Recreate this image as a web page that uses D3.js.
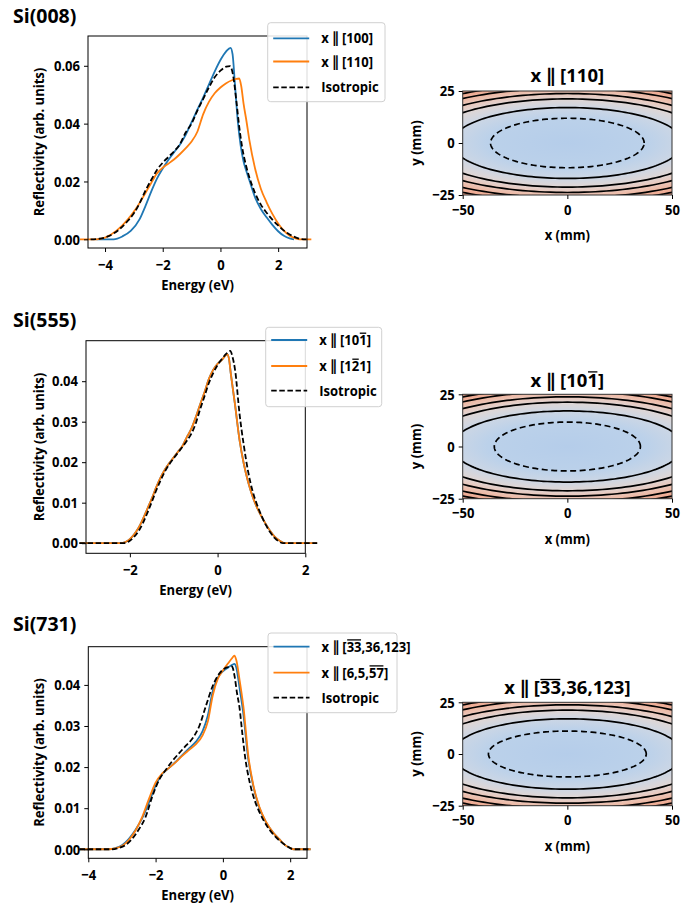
<!DOCTYPE html>
<html><head><meta charset="utf-8">
<script src="https://cdn.jsdelivr.net/npm/d3@7"></script>
<style>
body{margin:0;background:#fff;}
svg text{font-family:"Open Sans","DejaVu Sans",sans-serif;font-weight:700;}
</style></head><body>
<svg id="c" width="697" height="907"></svg>
<script>
// ---------------- DATA ----------------
// Si(008)
const si008_x100_E = [-4.3,-3.7,-3.4,-3.1,-2.8,-2.6,-2.4,-2.2,-2.0,-1.8,-1.6,-1.4,-1.2,-1.0,-0.8,-0.6,-0.4,-0.2,0,0.2,0.35,0.42,0.5,0.6,0.7,0.8,0.9,1.0,1.2,1.4,1.6,1.8,2.0,2.2,2.4,2.55];
const si008_x100_R = [0,0,0.001,0.003,0.007,0.0115,0.0165,0.021,0.0245,0.0275,0.0302,0.0328,0.0362,0.0405,0.0448,0.049,0.0535,0.058,0.062,0.065,0.0662,0.064,0.054,0.041,0.0325,0.027,0.0235,0.0205,0.0145,0.0105,0.0076,0.005,0.0028,0.0012,0.0003,0];
const si008_x110_E = [-4.87,-4.3,-4.0,-3.6,-3.2,-2.9,-2.6,-2.4,-2.2,-2.0,-1.8,-1.6,-1.4,-1.2,-1.0,-0.8,-0.6,-0.4,-0.2,0,0.2,0.4,0.55,0.65,0.72,0.8,0.9,1.0,1.2,1.4,1.6,1.8,2.0,2.2,2.4,2.6,2.75,3.15];
const si008_x110_R = [0,0,0.0006,0.003,0.007,0.011,0.016,0.0195,0.0228,0.0248,0.0262,0.0277,0.0295,0.0315,0.0338,0.0372,0.0432,0.0475,0.0505,0.0525,0.054,0.055,0.0555,0.0556,0.053,0.047,0.041,0.0345,0.0245,0.0175,0.0128,0.0088,0.0055,0.003,0.0012,0.0003,0,0];
const si008_iso_E = [-4.5,-4.2,-3.9,-3.5,-3.2,-3.0,-2.8,-2.6,-2.4,-2.2,-2.0,-1.8,-1.6,-1.4,-1.2,-1.0,-0.8,-0.6,-0.4,-0.2,0,0.2,0.33,0.4,0.45,0.55,0.65,0.75,0.9,1.0,1.2,1.4,1.6,1.8,2.0,2.2,2.4,2.6,2.8,2.98];
const si008_iso_R = [0,0.0002,0.001,0.0035,0.0065,0.009,0.0125,0.0168,0.0205,0.024,0.0265,0.0285,0.0305,0.033,0.037,0.040,0.0445,0.0485,0.0525,0.056,0.0583,0.0597,0.0599,0.0585,0.056,0.048,0.039,0.032,0.025,0.0215,0.016,0.012,0.0092,0.0068,0.0048,0.003,0.0017,0.0007,0.0001,0];
// Si(555)
const si555_x121_E = [-3.15,-2.2,-2.1,-2.0,-1.9,-1.8,-1.7,-1.6,-1.5,-1.4,-1.3,-1.2,-1.1,-1.0,-0.9,-0.8,-0.7,-0.6,-0.5,-0.4,-0.3,-0.2,-0.1,0,0.1,0.22,0.26,0.3,0.4,0.5,0.6,0.7,0.8,0.9,1.0,1.1,1.2,1.3,1.4,1.5,1.55,2.27];
const si555_x121_R = [0,0,0.0003,0.001,0.0022,0.0038,0.006,0.0085,0.011,0.0138,0.0162,0.0182,0.0198,0.0212,0.0226,0.024,0.0262,0.0282,0.031,0.0342,0.0372,0.0405,0.0428,0.0443,0.0453,0.0466,0.0455,0.042,0.034,0.0255,0.0195,0.015,0.0115,0.0088,0.0066,0.0047,0.003,0.0016,0.0007,0.0001,0,0];
const si555_x101_E = [-3.15,-2.2,-2.1,-2.0,-1.9,-1.8,-1.7,-1.6,-1.5,-1.4,-1.3,-1.2,-1.1,-1.0,-0.9,-0.8,-0.7,-0.6,-0.5,-0.4,-0.3,-0.2,-0.1,0,0.1,0.22,0.26,0.3,0.4,0.5,0.6,0.7,0.8,0.9,1.0,1.1,1.2,1.3,1.4,1.5,1.55,2.27];
const si555_x101_R = [0,0,0.0003,0.001,0.0022,0.0038,0.006,0.0085,0.011,0.0138,0.0162,0.0182,0.0198,0.0212,0.0226,0.024,0.0262,0.0282,0.031,0.0342,0.0372,0.0405,0.0428,0.0443,0.0453,0.0466,0.0455,0.042,0.034,0.0255,0.0195,0.015,0.0115,0.0088,0.0066,0.0047,0.003,0.0016,0.0007,0.0001,0,0];
const si555_iso_E = [-3.15,-2.15,-2.0,-1.9,-1.8,-1.7,-1.6,-1.5,-1.4,-1.3,-1.2,-1.1,-1.0,-0.9,-0.8,-0.7,-0.6,-0.5,-0.4,-0.3,-0.2,-0.1,0,0.1,0.2,0.29,0.34,0.4,0.5,0.6,0.7,0.8,0.9,1.0,1.1,1.2,1.3,1.4,1.5,2.27];
const si555_iso_R = [0,0,0.0006,0.0016,0.003,0.005,0.0075,0.0102,0.013,0.0155,0.0177,0.0195,0.021,0.0224,0.0238,0.0253,0.027,0.0295,0.033,0.0362,0.0395,0.042,0.044,0.0455,0.0468,0.0475,0.046,0.0427,0.032,0.024,0.0175,0.0128,0.0095,0.0068,0.0045,0.0027,0.0013,0.0004,0,0];
// Si(731)
const si731_xA_E = [-4.26,-3.4,-3.2,-3.0,-2.8,-2.6,-2.4,-2.2,-2.0,-1.8,-1.6,-1.4,-1.2,-1.0,-0.8,-0.6,-0.45,-0.3,-0.15,0,0.15,0.28,0.34,0.4,0.5,0.6,0.75,0.9,1.08,1.28,1.5,1.67,1.85,2.0,2.1,2.61];
const si731_xA_R = [0,0,0.0003,0.001,0.0025,0.0047,0.0075,0.0113,0.0155,0.0183,0.0198,0.0213,0.023,0.0246,0.0262,0.0288,0.0325,0.0385,0.0418,0.0433,0.0442,0.0449,0.0451,0.0442,0.039,0.0335,0.0222,0.0155,0.0102,0.0066,0.004,0.0025,0.001,0.0003,0,0];
const si731_xB_E = [-4.26,-3.4,-3.2,-3.0,-2.8,-2.6,-2.4,-2.2,-2.0,-1.8,-1.6,-1.4,-1.2,-1.0,-0.8,-0.6,-0.45,-0.3,-0.15,0,0.15,0.28,0.34,0.4,0.5,0.61,0.76,0.9,1.08,1.28,1.5,1.67,1.85,2.0,2.1,2.61];
const si731_xB_R = [0,0,0.0002,0.0008,0.0022,0.0045,0.0078,0.0122,0.0162,0.0185,0.0198,0.0212,0.0228,0.0242,0.0256,0.0278,0.031,0.0375,0.0415,0.0435,0.0452,0.0466,0.0471,0.046,0.041,0.0347,0.0225,0.0158,0.0104,0.0067,0.004,0.0025,0.001,0.0003,0,0];
const si731_iso_E = [-4.26,-3.3,-3.1,-2.9,-2.7,-2.5,-2.3,-2.1,-1.9,-1.7,-1.5,-1.3,-1.1,-0.9,-0.7,-0.5,-0.3,-0.1,0.1,0.27,0.35,0.42,0.49,0.58,0.66,0.8,0.95,1.1,1.3,1.5,1.7,1.9,2.05,2.15,2.61];
const si731_iso_R = [0,0,0.0003,0.001,0.0025,0.0048,0.0078,0.0128,0.0168,0.0193,0.0215,0.0234,0.0252,0.027,0.030,0.035,0.0398,0.0428,0.0442,0.0445,0.042,0.038,0.0347,0.028,0.0225,0.0162,0.0118,0.0088,0.0058,0.0036,0.002,0.0008,0.0001,0,0];

// tick values
const si008_xTicks = [-4,-2,0,2], si008_yTicks = [0,0.02,0.04,0.06];
const si555_xTicks = [-2,0,2],    si555_yTicks = [0,0.01,0.02,0.03,0.04];
const si731_xTicks = [-4,-2,0,2], si731_yTicks = [0,0.01,0.02,0.03,0.04];
const map_xTicks = [-50,0,50], map_yTicks = [-25,0,25];

// contour map: levels (y^2 at x=0, mm^2) of the field x^2/anisotropy + y^2
const mapAnisotropy = 10.5;
const mapSolidLevels = [290, 450, 566, 695, 802];
// dashed contour semi-axes [x, y] in mm
const mapDashed = [[36.7,11.9],[34.9,11.7],[37.7,11.1]];
// colour ramp against normalised elliptic radius
const cmapStops  = [0, 0.40, 0.57, 0.70, 0.78, 0.85, 0.92, 1.0];
const cmapColors = ["#b5cdea","#bbd1ea","#cbd6e5","#ddd6d6","#e7cbc2","#ecbfae","#eeaf98","#efa088"];

// labels
const legendLabels = [
  [[["x \u2225 [100]",0]], [["x \u2225 [110]",0]], [["Isotropic",0]]],
  [[["x \u2225 [10",0],["1",1],["]",0]], [["x \u2225 [1",0],["2",1],["1]",0]], [["Isotropic",0]]],
  [[["x \u2225 [",0],["33",1],[",36,123]",0]], [["x \u2225 [6,5,",0],["57",1],["]",0]], [["Isotropic",0]]]
];
const mapTitles = [
  [["x \u2225 [110]",0]],
  [["x \u2225 [10",0],["1",1],["]",0]],
  [["x \u2225 [",0],["33",1],[",36,123]",0]]
];
const panelTitles = ["Si(008)","Si(555)","Si(731)"];
const seriesColors = ["#1f77b4","#ff7f0e","#000000"];

// ---------------- DRAW ----------------
const svg = d3.select("#c");
const FS = 15, KX = 0.87;   // font size and horizontal squeeze for small text

function squeeze(sel, k){
  sel.each(function(){
    const t=d3.select(this);
    const x=+(t.attr("x")||0);
    const prev=t.attr("transform")||"";
    t.attr("transform",`${prev} translate(${x},0) scale(${k},1) translate(${-x},0)`);
  });
}

function richText(g, segs, x, y, size, anchor, k){
  const tr=`translate(${x},0) scale(${k},1) translate(${-x},0)`;
  const t = g.append("text").attr("x",x).attr("y",y).attr("font-size",size)
    .attr("text-anchor",anchor||"start").attr("fill","#000").attr("transform",tr);
  segs.forEach(s=>t.append("tspan").text(s[0]));
  let idx=0;
  const node=t.node();
  segs.forEach(s=>{
    const n=s[0].length;
    if(s[1]){
      const st=node.getStartPositionOfChar(idx).x;
      const en=node.getEndPositionOfChar(idx+n-1).x;
      const yy=y-0.80*size;
      g.append("line").attr("x1",st+0.6).attr("x2",en-0.6).attr("y1",yy).attr("y2",yy)
        .attr("stroke","#000").attr("stroke-width",1.3).attr("transform",tr);
    }
    idx+=n;
  });
  return t;
}

const leftPanels = [
  {box:[88,307,36,248], xd:[-4.59,3.0], yd:[-0.003,0.0703], xt:si008_xTicks, yt:si008_yTicks, fmt:".2f",
   series:[[si008_x100_E,si008_x100_R],[si008_x110_E,si008_x110_R],[si008_iso_E,si008_iso_R]],
   titleY:23, leg:{box:[267.7,385,22.7,101.7], rows:[38.3,61.5,87.3]}},
  {box:[86,305.3,340.7,553.3], xd:[-3,2], yd:[-0.0025,0.05], xt:si555_xTicks, yt:si555_yTicks, fmt:".2f",
   series:[[si555_x101_E,si555_x101_R],[si555_x121_E,si555_x121_R],[si555_iso_E,si555_iso_R]],
   titleY:326.7, leg:{box:[265.7,381.7,327.3,406.7], rows:[340,366,390.7]}},
  {box:[88.3,307,646.7,858.3], xd:[-4,2.5], yd:[-0.0022,0.0493], xt:si731_xTicks, yt:si731_yTicks, fmt:".2f",
   series:[[si731_xA_E,si731_xA_R],[si731_xB_E,si731_xB_R],[si731_iso_E,si731_iso_R]],
   titleY:630.7, leg:{box:[268,397,633,712.7], rows:[646.7,672.7,697.7]}}
];

function styleAxis(a){
  a.select(".domain").remove();
  a.attr("font-size",FS).attr("font-family",null);
  a.selectAll(".tick line").attr("stroke","#000").attr("stroke-width",1);
  a.selectAll(".tick text").attr("fill","#000").call(squeeze, KX);
}

leftPanels.forEach((p,i)=>{
  const g=svg.append("g");
  const [x0,x1,y0,y1]=p.box;
  const x=d3.scaleLinear().domain(p.xd).range([x0,x1]);
  const y=d3.scaleLinear().domain(p.yd).range([y1,y0]);
  const line=d3.line().x(d=>x(d[0])).y(d=>y(d[1])).curve(d3.curveMonotoneX);
  p.series.forEach((s,k)=>{
    g.append("path").datum(d3.zip(s[0],s[1])).attr("d",line).attr("fill","none")
      .attr("stroke",seriesColors[k]).attr("stroke-width",1.8)
      .attr("stroke-dasharray",k===2?"5.5,2.6":null);
  });
  g.append("rect").attr("x",x0).attr("y",y0).attr("width",x1-x0).attr("height",y1-y0)
    .attr("fill","none").attr("stroke","#000").attr("stroke-width",1);
  g.append("g").attr("transform",`translate(0,${y1})`)
    .call(d3.axisBottom(x).tickValues(p.xt).tickSize(4).tickPadding(7).tickFormat(d3.format("d")))
    .call(styleAxis);
  g.append("g").attr("transform",`translate(${x0},0)`)
    .call(d3.axisLeft(y).tickValues(p.yt).tickSize(4).tickPadding(4).tickFormat(d3.format(p.fmt)))
    .call(styleAxis);
  g.append("text").attr("x",(x0+x1)/2).attr("y",y1+42).attr("text-anchor","middle")
    .attr("font-size",FS).text("Energy (eV)").call(squeeze, KX);
  g.append("text").attr("transform",`translate(44,${(y0+y1)/2}) rotate(-90) scale(${KX},1)`).attr("text-anchor","middle")
    .attr("font-size",FS).text("Reflectivity (arb. units)");
  g.append("text").attr("x",13).attr("y",p.titleY).attr("font-size",19.5).text(panelTitles[i]);
  // legend
  const L=p.leg, lg=svg.append("g");
  lg.append("rect").attr("x",L.box[0]).attr("y",L.box[2]).attr("width",L.box[1]-L.box[0])
    .attr("height",L.box[3]-L.box[2]).attr("rx",3).attr("fill","#fff").attr("fill-opacity",0.85)
    .attr("stroke","#d0d0d0").attr("stroke-width",1);
  L.rows.forEach((ry,k)=>{
    lg.append("line").attr("x1",L.box[0]+5.5).attr("x2",L.box[0]+41.5).attr("y1",ry).attr("y2",ry)
      .attr("stroke",seriesColors[k]).attr("stroke-width",1.8).attr("stroke-dasharray",k===2?"5.5,2.6":null);
    richText(lg, legendLabels[i][k], L.box[0]+53.5, ry+5.2, FS, "start", KX);
  });
});

// right maps
const rightPanels = [
  {box:[462.7,672,91,195], titleY:81.7},
  {box:[462.7,672,394.3,498.7], titleY:386.7},
  {box:[462.7,672,702.3,805.7], titleY:694.3}
];
const defs=svg.append("defs");
rightPanels.forEach((p,i)=>{
  const [x0,x1,y0,y1]=p.box;
  const x=d3.scaleLinear().domain([-50,50]).range([x0,x1]);
  const y=d3.scaleLinear().domain([-25,25]).range([y1,y0]);
  const rhoMax=Math.sqrt(50*50/mapAnisotropy+25*25);
  const rx=x(rhoMax*Math.sqrt(mapAnisotropy))-x(0), ry=y(0)-y(rhoMax);
  const gid="grad"+i, cid="clip"+i;
  const gr=defs.append("radialGradient").attr("id",gid).attr("gradientUnits","userSpaceOnUse")
    .attr("cx",0).attr("cy",0).attr("r",1)
    .attr("gradientTransform",`translate(${x(0)},${y(0)}) scale(${rx},${ry})`);
  cmapStops.forEach((s,k)=>gr.append("stop").attr("offset",s).attr("stop-color",cmapColors[k]));
  defs.append("clipPath").attr("id",cid).append("rect").attr("x",x0).attr("y",y0)
    .attr("width",x1-x0).attr("height",y1-y0);
  const g=svg.append("g");
  g.append("rect").attr("x",x0).attr("y",y0).attr("width",x1-x0).attr("height",y1-y0)
    .attr("fill",`url(#${gid})`);
  const cg=g.append("g").attr("clip-path",`url(#${cid})`);
  const ang=d3.range(0,360,2).map(a=>a*Math.PI/180);
  const eline=d3.line().x(d=>x(d[0])).y(d=>y(d[1])).curve(d3.curveLinearClosed);
  mapSolidLevels.forEach(L=>{
    const a=Math.sqrt(L*mapAnisotropy), b=Math.sqrt(L);
    cg.append("path").datum(ang.map(t=>[a*Math.cos(t),b*Math.sin(t)])).attr("d",eline)
      .attr("fill","none").attr("stroke","#000").attr("stroke-width",1.7);
  });
  const [da,db]=mapDashed[i];
  cg.append("path").datum(ang.map(t=>[da*Math.cos(t),db*Math.sin(t)])).attr("d",eline)
    .attr("fill","none").attr("stroke","#000").attr("stroke-width",1.7).attr("stroke-dasharray","6,3.5");
  g.append("rect").attr("x",x0).attr("y",y0).attr("width",x1-x0).attr("height",y1-y0)
    .attr("fill","none").attr("stroke","#333").attr("stroke-width",1);
  g.append("g").attr("transform",`translate(0,${y1})`)
    .call(d3.axisBottom(x).tickValues(map_xTicks).tickSize(4).tickPadding(5).tickFormat(d3.format("d")))
    .call(styleAxis);
  g.append("g").attr("transform",`translate(${x0},0)`)
    .call(d3.axisLeft(y).tickValues(map_yTicks).tickSize(4).tickPadding(4).tickFormat(d3.format("d")))
    .call(styleAxis);
  g.append("text").attr("x",(x0+x1)/2).attr("y",y1+45).attr("text-anchor","middle")
    .attr("font-size",FS).text("x (mm)").call(squeeze, KX);
  g.append("text").attr("transform",`translate(421,${(y0+y1)/2}) rotate(-90) scale(${KX},1)`).attr("text-anchor","middle")
    .attr("font-size",FS).text("y (mm)");
  richText(g, mapTitles[i], (x0+x1)/2, p.titleY, 18.5, "middle", 1);
});
</script>
</body></html>
